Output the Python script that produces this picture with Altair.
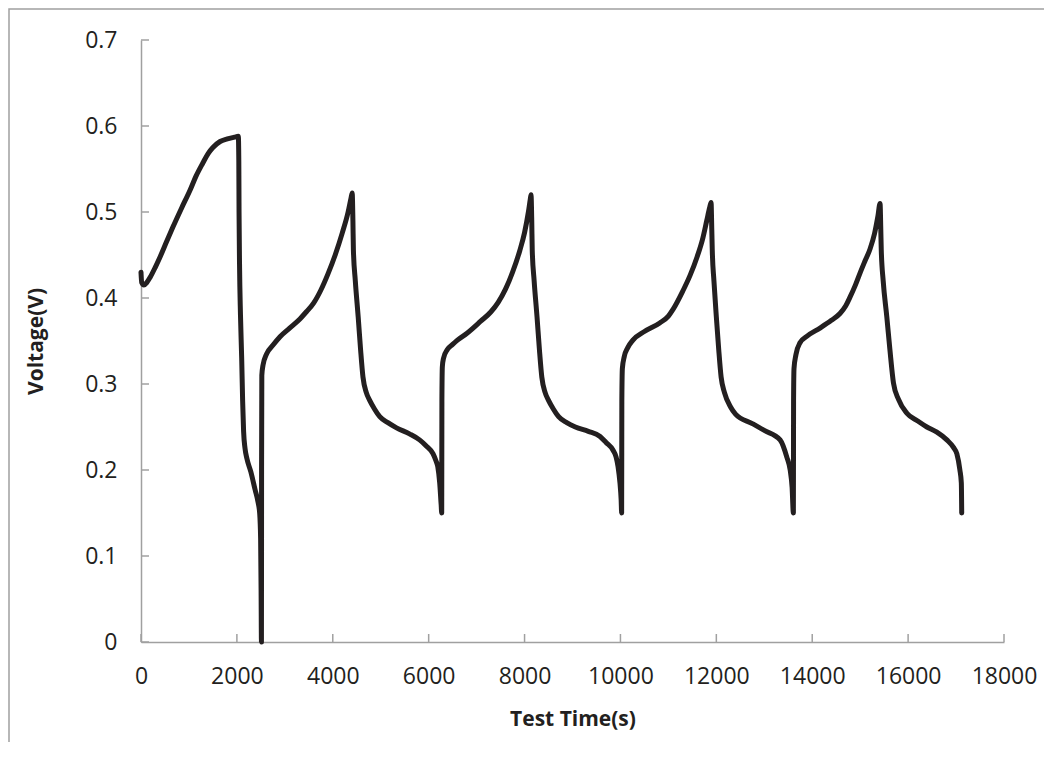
import altair as alt
import pandas as pd

# ---- data (Test Time in s, Voltage in V) ----
c1_charge_t = [0, 15, 60, 120, 190, 300, 400, 530, 670, 850, 1020, 1150, 1290, 1400, 1500, 1650, 1800, 1950, 2030]
c1_charge_v = [0.430, 0.418, 0.415, 0.418, 0.424, 0.436, 0.448, 0.465, 0.483, 0.505, 0.525, 0.542, 0.557, 0.568, 0.575, 0.582, 0.585, 0.587, 0.588]

c1_dis_t = [2040, 2045, 2055, 2075, 2100, 2120, 2140, 2170, 2210, 2290, 2380, 2440, 2475, 2495, 2505, 2512]
c1_dis_v = [0.560, 0.500, 0.440, 0.380, 0.330, 0.280, 0.245, 0.225, 0.213, 0.198, 0.177, 0.163, 0.150, 0.120, 0.060, 0.000]

c2_charge_t = [2512, 2515, 2520, 2545, 2620, 2750, 2900, 3100, 3320, 3450, 3600, 3750, 3900, 4050, 4200, 4320, 4380, 4405]
c2_charge_v = [0.000, 0.200, 0.310, 0.322, 0.335, 0.345, 0.355, 0.365, 0.376, 0.384, 0.394, 0.409, 0.428, 0.450, 0.476, 0.500, 0.516, 0.522]

c2_dis_t = [4420, 4430, 4470, 4530, 4580, 4630, 4700, 4770, 4870, 4980, 5150, 5330, 5600, 5810, 5950, 6090, 6150, 6190, 6230, 6260, 6272]
c2_dis_v = [0.490, 0.456, 0.420, 0.378, 0.340, 0.308, 0.290, 0.281, 0.271, 0.262, 0.255, 0.249, 0.242, 0.235, 0.228, 0.219, 0.211, 0.204, 0.185, 0.160, 0.150]

c3_charge_t = [6272, 6276, 6285, 6310, 6390, 6500, 6600, 6800, 7086, 7300, 7450, 7600, 7750, 7900, 8000, 8080, 8120, 8135]
c3_charge_v = [0.150, 0.280, 0.320, 0.330, 0.340, 0.346, 0.351, 0.359, 0.373, 0.384, 0.395, 0.410, 0.430, 0.455, 0.476, 0.500, 0.515, 0.520]

c3_dis_t = [8150, 8160, 8200, 8260, 8310, 8360, 8430, 8500, 8600, 8710, 8880, 9060, 9330, 9575, 9700, 9846, 9910, 9950, 9990, 10015, 10025]
c3_dis_v = [0.490, 0.456, 0.420, 0.378, 0.340, 0.308, 0.290, 0.281, 0.271, 0.262, 0.255, 0.250, 0.245, 0.239, 0.232, 0.223, 0.215, 0.204, 0.185, 0.165, 0.150]

c4_charge_t = [10025, 10029, 10040, 10080, 10150, 10260, 10500, 10820, 11000, 11100, 11300, 11450, 11600, 11720, 11800, 11860, 11890]
c4_charge_v = [0.150, 0.280, 0.318, 0.332, 0.342, 0.351, 0.361, 0.371, 0.379, 0.387, 0.408, 0.426, 0.448, 0.470, 0.490, 0.505, 0.511]

c4_dis_t = [11905, 11915, 11950, 12000, 12050, 12100, 12170, 12300, 12400, 12750, 13000, 13330, 13470, 13540, 13580, 13607]
c4_dis_v = [0.480, 0.456, 0.420, 0.378, 0.340, 0.308, 0.290, 0.273, 0.265, 0.254, 0.246, 0.235, 0.215, 0.200, 0.180, 0.150]

c5_charge_t = [13607, 13611, 13620, 13660, 13745, 13900, 14162, 14400, 14579, 14700, 14788, 14900, 14997, 15100, 15206, 15300, 15370, 15415]
c5_charge_v = [0.150, 0.280, 0.318, 0.334, 0.348, 0.356, 0.365, 0.374, 0.382, 0.391, 0.401, 0.415, 0.429, 0.443, 0.457, 0.475, 0.495, 0.510]

c5_dis_t = [15430, 15440, 15480, 15556, 15620, 15695, 15800, 15974, 16200, 16391, 16600, 16808, 16950, 17016, 17080, 17110, 17118]
c5_dis_v = [0.480, 0.456, 0.420, 0.378, 0.340, 0.301, 0.282, 0.266, 0.257, 0.250, 0.244, 0.235, 0.226, 0.219, 0.200, 0.185, 0.150]

x_ticks = [0, 2000, 4000, 6000, 8000, 10000, 12000, 14000, 16000, 18000]
y_ticks = [0, 0.1, 0.2, 0.3, 0.4, 0.5, 0.6, 0.7]

segments = [
    (c1_charge_t, c1_charge_v), (c1_dis_t, c1_dis_v),
    (c2_charge_t, c2_charge_v), (c2_dis_t, c2_dis_v),
    (c3_charge_t, c3_charge_v), (c3_dis_t, c3_dis_v),
    (c4_charge_t, c4_charge_v), (c4_dis_t, c4_dis_v),
    (c5_charge_t, c5_charge_v), (c5_dis_t, c5_dis_v),
]
rows = []
for ts, vs in segments:
    for t, v in zip(ts, vs):
        if rows and rows[-1]["t"] == t and rows[-1]["v"] == v:
            continue  # shared end/start point of consecutive segments
        rows.append({"t": t, "v": v, "order": len(rows)})
df = pd.DataFrame(rows)

W, H = 863, 602
GRAY = "#a0a0a0"
FONT = "Open Sans"
INK = "#231f20"

xs = alt.Scale(domain=[0, 18000], nice=False)
ys = alt.Scale(domain=[0, 0.7], nice=False)

frame = alt.Chart(pd.DataFrame({"a": [0]})).mark_rect(
    fillOpacity=0, stroke=GRAY, strokeWidth=1.5
).encode(x=alt.value(-132), x2=alt.value(W + 200), y=alt.value(-31), y2=alt.value(H + 300))

line = alt.Chart(df).mark_line(
    color=INK, strokeWidth=5, strokeCap="round", strokeJoin="round", interpolate="monotone"
).encode(
    x=alt.X("t:Q", scale=xs, title="Test Time(s)",
            axis=alt.Axis(values=x_ticks, grid=False, tickSize=0, domainColor=GRAY, domainWidth=1.5,
                          format="d",
                          labelFont=FONT, labelFontSize=23, labelColor=INK,
                          labelBaseline="alphabetic", labelPadding=41, labelFlush=False,
                          titleFont=FONT, titleFontSize=21, titleFontWeight="bold", titleColor=INK,
                          titleBaseline="alphabetic", titleY=83)),
    y=alt.Y("v:Q", scale=ys, title="Voltage(V)",
            axis=alt.Axis(values=y_ticks, grid=False, tickSize=0, domainColor=GRAY, domainWidth=1.5,
                          labelFont=FONT, labelFontSize=23, labelColor=INK,
                          labelPadding=24, labelFlush=False,
                          labelExpr="datum.value == 0 ? '0' : format(datum.value, '.1f')",
                          titleFont=FONT, titleFontSize=21, titleFontWeight="bold", titleColor=INK,
                          titleBaseline="middle", titleX=-105, titleY=H / 2, titleAngle=-90)),
    order="order:Q",
)

xt = alt.Chart(pd.DataFrame({"t": x_ticks})).mark_rule(color=GRAY, strokeWidth=1.5).encode(
    x=alt.X("t:Q", scale=xs), y=alt.value(H), y2=alt.value(H - 8))
yt = alt.Chart(pd.DataFrame({"v": y_ticks})).mark_rule(color=GRAY, strokeWidth=1.5).encode(
    y=alt.Y("v:Q", scale=ys), x=alt.value(0), x2=alt.value(8))

chart = alt.layer(frame, xt, yt, line).properties(
    width=W, height=H,
    autosize=alt.AutoSizeParams(type="none"),
    padding={"left": 133, "top": 32, "right": 40, "bottom": 100},
    background="white",
).configure_view(stroke=None)

chart.save("out.html", embed_options={"renderer": "svg", "actions": False})
